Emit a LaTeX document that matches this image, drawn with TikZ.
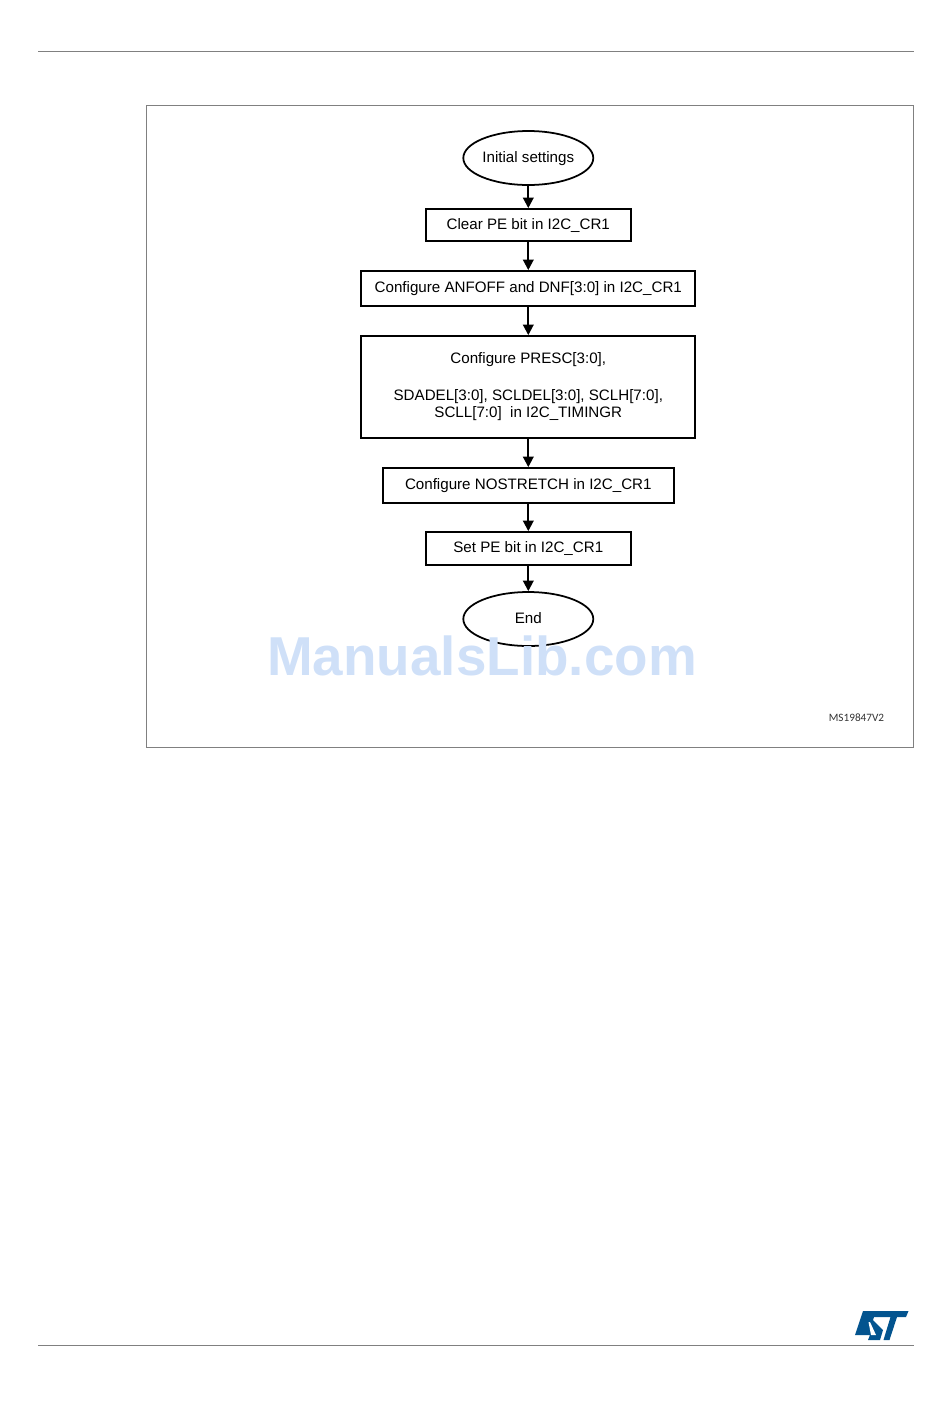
\documentclass[tikz,border=0pt]{standalone}
\usepackage{fontspec}
\setmainfont{Liberation Sans}
\newfontfamily\labelfont{Carlito}
\usepackage{tikz}
\usetikzlibrary{arrows, arrows.meta, shapes.geometric}
\definecolor{rulegray}{HTML}{808080}
\definecolor{wmblue}{HTML}{CFE0F8}
\definecolor{stblue}{HTML}{03548F}
\newcommand{\fixedline}[1]{\raisebox{0pt}[6pt][1pt]{#1}}
\tikzset{
  stepbox/.style={draw, line width=1pt, rectangle, inner sep=0pt, font=\fontsize{8.62}{10.2}\selectfont, align=center},
  terminal/.style={draw, line width=1pt, ellipse, inner sep=0pt, minimum width=2.6cm, minimum height=1.08cm, font=\fontsize{8.62}{10.2}\selectfont},
  flow/.style={line width=1.15pt, >={Triangle[length=6pt,width=6pt]}, ->},
}
\begin{document}
\begin{tikzpicture}[x=0.02cm,y=-0.02cm]
\useasboundingbox (0,0) rectangle (950,1420);

% page rules and frame
\coordinate (ruleTL) at (38,51.5);
\coordinate (ruleTR) at (914,51.5);
\coordinate (ruleBL) at (38,1345);
\coordinate (ruleBR) at (914,1345);
\draw[rulegray, line width=0.45pt] (ruleTL) -- (ruleTR);
\draw[rulegray, line width=0.45pt] (ruleBL) -- (ruleBR);
\draw[rulegray, line width=0.5pt] (146,105) rectangle (913,747);

\node[terminal] (init) at (528.3,158) {\fixedline{Initial settings}};
\node[stepbox, minimum width=4.1cm, minimum height=0.64cm] (clearpe) at (528.3,225) {\fixedline{Clear PE bit in I2C\_CR1}};
\node[stepbox, minimum width=6.68cm, minimum height=0.7cm] (anfoff) at (528.3,288.5) {\fixedline{Configure ANFOFF and DNF[3:0] in I2C\_CR1}};
\node[stepbox, minimum width=6.68cm, minimum height=2.04cm] (presc) at (528.3,387) {Configure PRESC[3:0],\\[10.4pt] SDADEL[3:0], SCLDEL[3:0], SCLH[7:0],\\ SCLL[7:0]\ \ in I2C\_TIMINGR};
\node[stepbox, minimum width=5.82cm, minimum height=0.7cm] (nostretch) at (528.3,485.5) {\fixedline{Configure NOSTRETCH in I2C\_CR1}};
\node[stepbox, minimum width=4.1cm, minimum height=0.66cm] (setpe) at (528.3,548.5) {\fixedline{Set PE bit in I2C\_CR1}};
\node[terminal] (end) at (528.3,619) {\fixedline{End}};

\draw[flow] (init) -- (clearpe);
\draw[flow] (clearpe) -- (anfoff);
\draw[flow] (anfoff) -- (presc);
\draw[flow] (presc) -- (nostretch);
\draw[flow] (nostretch) -- (setpe);
\draw[flow] (setpe) -- (end);

\node[font=\labelfont\fontsize{6.4}{7}\selectfont, text=black!80] (figid) at (856.5,718) {MS19847V2};
\node[font=\bfseries\fontsize{31.2}{36}\selectfont, text=wmblue] (wmark) at (482,656) {ManualsLib.com};

% logo
\fill[stblue] (863,1311) -- (908.5,1311) -- (906,1317) -- (897,1317) -- (889.5,1340) -- (883.5,1340) -- (890.5,1317) -- (874,1317) -- (873,1320) -- (883,1330) -- (880,1340) -- (868,1340) -- (870,1335) -- (855,1335) -- cycle;
\fill[white] (868.5,1322) -- (870,1322) -- (876,1335) -- (871,1335) -- cycle;
\end{tikzpicture}
\end{document}
